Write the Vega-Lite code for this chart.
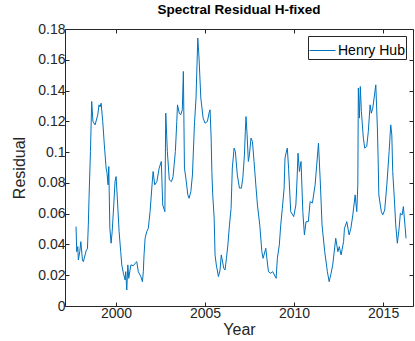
{
  "$schema": "https://vega.github.io/schema/vega-lite/v6.json",
  "autosize": "none",
  "width": 348,
  "height": 277,
  "padding": {"left": 65, "top": 29, "right": 2, "bottom": 35},
  "background": "white",
  "title": {"text": "Spectral Residual H-fixed", "fontSize": 13.5, "fontWeight": "bold", "font": "Liberation Sans", "color": "#000000", "offset": 6},
  "config": {
    "font": "Liberation Sans",
    "view": {"stroke": null},
    "axis": {"grid": false, "domainColor": "#262626", "tickColor": "#262626", "labelColor": "#262626", "titleColor": "#262626", "labelFontSize": 14, "titleFontSize": 16, "titleFontWeight": "normal", "tickSize": -4, "labelPadding": 4, "domainWidth": 1, "tickWidth": 1},
    "legend": {"orient": "top-right", "offset": 7, "strokeColor": "#262626", "fillColor": "white", "padding": 1, "symbolType": "stroke", "symbolSize": 676, "symbolStrokeWidth": 1, "labelFontSize": 14, "labelOffset": 2, "labelColor": "#000000", "title": null}
  },
  "data": {"values": [
    {"year": 1997.75, "r": 0.0516}, {"year": 1997.79, "r": 0.0353}, {"year": 1997.85, "r": 0.0386}, {"year": 1997.88, "r": 0.0299},
    {"year": 1997.96, "r": 0.0353}, {"year": 1998.02, "r": 0.0418}, {"year": 1998.11, "r": 0.0299}, {"year": 1998.16, "r": 0.0288},
    {"year": 1998.26, "r": 0.0332}, {"year": 1998.33, "r": 0.0364}, {"year": 1998.39, "r": 0.0371}, {"year": 1998.44, "r": 0.0527},
    {"year": 1998.48, "r": 0.07}, {"year": 1998.56, "r": 0.1004}, {"year": 1998.63, "r": 0.1329}, {"year": 1998.7, "r": 0.1199},
    {"year": 1998.82, "r": 0.1177}, {"year": 1998.97, "r": 0.1242}, {"year": 1999.04, "r": 0.1307}, {"year": 1999.1, "r": 0.1294},
    {"year": 1999.16, "r": 0.1318}, {"year": 1999.25, "r": 0.1199}, {"year": 1999.34, "r": 0.1047}, {"year": 1999.44, "r": 0.0896},
    {"year": 1999.49, "r": 0.0865}, {"year": 1999.55, "r": 0.0787}, {"year": 1999.59, "r": 0.0906}, {"year": 1999.65, "r": 0.0505},
    {"year": 1999.72, "r": 0.0408}, {"year": 1999.78, "r": 0.0483}, {"year": 1999.87, "r": 0.0657}, {"year": 1999.94, "r": 0.0808},
    {"year": 2000.0, "r": 0.0841}, {"year": 2000.07, "r": 0.07}, {"year": 2000.17, "r": 0.0483}, {"year": 2000.26, "r": 0.0353},
    {"year": 2000.32, "r": 0.0267}, {"year": 2000.41, "r": 0.0213}, {"year": 2000.51, "r": 0.0169}, {"year": 2000.54, "r": 0.0223},
    {"year": 2000.6, "r": 0.0104}, {"year": 2000.66, "r": 0.0267}, {"year": 2000.71, "r": 0.018}, {"year": 2000.83, "r": 0.0267},
    {"year": 2000.97, "r": 0.0262}, {"year": 2001.07, "r": 0.0278}, {"year": 2001.16, "r": 0.0288}, {"year": 2001.25, "r": 0.0223},
    {"year": 2001.39, "r": 0.0191}, {"year": 2001.48, "r": 0.0158}, {"year": 2001.53, "r": 0.0223}, {"year": 2001.57, "r": 0.0332},
    {"year": 2001.63, "r": 0.044}, {"year": 2001.72, "r": 0.0483}, {"year": 2001.81, "r": 0.0505}, {"year": 2001.91, "r": 0.0613},
    {"year": 2002.02, "r": 0.0787}, {"year": 2002.08, "r": 0.0874}, {"year": 2002.17, "r": 0.0787}, {"year": 2002.29, "r": 0.0808},
    {"year": 2002.42, "r": 0.0896}, {"year": 2002.54, "r": 0.0939}, {"year": 2002.62, "r": 0.0657}, {"year": 2002.74, "r": 0.0613},
    {"year": 2002.79, "r": 0.1253}, {"year": 2002.88, "r": 0.1004}, {"year": 2002.99, "r": 0.082}, {"year": 2003.11, "r": 0.0808},
    {"year": 2003.2, "r": 0.0841}, {"year": 2003.33, "r": 0.1004}, {"year": 2003.41, "r": 0.1199}, {"year": 2003.45, "r": 0.1307},
    {"year": 2003.55, "r": 0.1253}, {"year": 2003.63, "r": 0.1242}, {"year": 2003.72, "r": 0.1275}, {"year": 2003.78, "r": 0.1524},
    {"year": 2003.84, "r": 0.0896}, {"year": 2003.92, "r": 0.0831}, {"year": 2004.03, "r": 0.0722}, {"year": 2004.1, "r": 0.07},
    {"year": 2004.2, "r": 0.0743}, {"year": 2004.29, "r": 0.0852}, {"year": 2004.4, "r": 0.1177}, {"year": 2004.49, "r": 0.1351},
    {"year": 2004.59, "r": 0.1741}, {"year": 2004.66, "r": 0.1611}, {"year": 2004.76, "r": 0.1351}, {"year": 2004.89, "r": 0.1221},
    {"year": 2005.0, "r": 0.1188}, {"year": 2005.13, "r": 0.1199}, {"year": 2005.22, "r": 0.1253}, {"year": 2005.28, "r": 0.1275},
    {"year": 2005.34, "r": 0.1091}, {"year": 2005.38, "r": 0.0874}, {"year": 2005.43, "r": 0.0722}, {"year": 2005.51, "r": 0.057},
    {"year": 2005.56, "r": 0.0332}, {"year": 2005.63, "r": 0.0267}, {"year": 2005.75, "r": 0.0191}, {"year": 2005.84, "r": 0.0234},
    {"year": 2005.91, "r": 0.0332}, {"year": 2006.05, "r": 0.0245}, {"year": 2006.12, "r": 0.0234}, {"year": 2006.2, "r": 0.031},
    {"year": 2006.28, "r": 0.0397}, {"year": 2006.37, "r": 0.0527}, {"year": 2006.46, "r": 0.0635}, {"year": 2006.53, "r": 0.0896},
    {"year": 2006.63, "r": 0.1026}, {"year": 2006.7, "r": 0.1004}, {"year": 2006.81, "r": 0.0852}, {"year": 2006.93, "r": 0.0766},
    {"year": 2007.04, "r": 0.0766}, {"year": 2007.12, "r": 0.0831}, {"year": 2007.21, "r": 0.0982}, {"year": 2007.26, "r": 0.1134},
    {"year": 2007.3, "r": 0.1231}, {"year": 2007.36, "r": 0.1112}, {"year": 2007.43, "r": 0.0939}, {"year": 2007.49, "r": 0.0982},
    {"year": 2007.58, "r": 0.1091}, {"year": 2007.66, "r": 0.1069}, {"year": 2007.75, "r": 0.0939}, {"year": 2007.85, "r": 0.0787},
    {"year": 2007.94, "r": 0.0657}, {"year": 2008.07, "r": 0.0527}, {"year": 2008.19, "r": 0.0353}, {"year": 2008.26, "r": 0.031},
    {"year": 2008.41, "r": 0.0375}, {"year": 2008.47, "r": 0.031}, {"year": 2008.56, "r": 0.0223}, {"year": 2008.69, "r": 0.0213},
    {"year": 2008.8, "r": 0.0223}, {"year": 2008.99, "r": 0.018}, {"year": 2009.06, "r": 0.031}, {"year": 2009.17, "r": 0.0397},
    {"year": 2009.25, "r": 0.0527}, {"year": 2009.34, "r": 0.0635}, {"year": 2009.44, "r": 0.0766}, {"year": 2009.49, "r": 0.0961},
    {"year": 2009.59, "r": 0.1015}, {"year": 2009.62, "r": 0.1026}, {"year": 2009.69, "r": 0.0896}, {"year": 2009.81, "r": 0.0613},
    {"year": 2009.98, "r": 0.0581}, {"year": 2010.1, "r": 0.0657}, {"year": 2010.17, "r": 0.0831}, {"year": 2010.22, "r": 0.0993},
    {"year": 2010.3, "r": 0.0874}, {"year": 2010.39, "r": 0.0939}, {"year": 2010.49, "r": 0.0613}, {"year": 2010.58, "r": 0.0462},
    {"year": 2010.67, "r": 0.0548}, {"year": 2010.8, "r": 0.0548}, {"year": 2010.9, "r": 0.0678}, {"year": 2011.03, "r": 0.067},
    {"year": 2011.18, "r": 0.0787}, {"year": 2011.37, "r": 0.1058}, {"year": 2011.48, "r": 0.0787}, {"year": 2011.57, "r": 0.0527},
    {"year": 2011.72, "r": 0.0353}, {"year": 2011.87, "r": 0.0223}, {"year": 2011.97, "r": 0.0158}, {"year": 2012.06, "r": 0.0202},
    {"year": 2012.17, "r": 0.0267}, {"year": 2012.34, "r": 0.044}, {"year": 2012.46, "r": 0.0353}, {"year": 2012.54, "r": 0.0386},
    {"year": 2012.64, "r": 0.0332}, {"year": 2012.78, "r": 0.0418}, {"year": 2012.83, "r": 0.0505}, {"year": 2012.96, "r": 0.0548},
    {"year": 2013.09, "r": 0.0462}, {"year": 2013.19, "r": 0.0505}, {"year": 2013.3, "r": 0.0592}, {"year": 2013.43, "r": 0.0722},
    {"year": 2013.52, "r": 0.0613}, {"year": 2013.58, "r": 0.0787}, {"year": 2013.61, "r": 0.1416}, {"year": 2013.67, "r": 0.1221},
    {"year": 2013.72, "r": 0.1426}, {"year": 2013.78, "r": 0.1264}, {"year": 2013.89, "r": 0.1091}, {"year": 2013.97, "r": 0.1026},
    {"year": 2014.08, "r": 0.1036}, {"year": 2014.17, "r": 0.1134}, {"year": 2014.27, "r": 0.1307}, {"year": 2014.34, "r": 0.1253},
    {"year": 2014.42, "r": 0.1286}, {"year": 2014.59, "r": 0.1437}, {"year": 2014.68, "r": 0.1156}, {"year": 2014.72, "r": 0.0961},
    {"year": 2014.76, "r": 0.0722}, {"year": 2014.9, "r": 0.0613}, {"year": 2014.98, "r": 0.0592}, {"year": 2015.09, "r": 0.0624},
    {"year": 2015.21, "r": 0.0787}, {"year": 2015.34, "r": 0.1004}, {"year": 2015.43, "r": 0.1177}, {"year": 2015.49, "r": 0.1112},
    {"year": 2015.54, "r": 0.0874}, {"year": 2015.63, "r": 0.07}, {"year": 2015.71, "r": 0.0527}, {"year": 2015.8, "r": 0.0408},
    {"year": 2015.9, "r": 0.0505}, {"year": 2015.97, "r": 0.0603}, {"year": 2016.07, "r": 0.0592}, {"year": 2016.14, "r": 0.0646},
    {"year": 2016.29, "r": 0.044}
  ]},
  "layer": [
    {
      "mark": {"type": "line", "strokeWidth": 1, "clip": true},
      "encoding": {
        "x": {"field": "year", "type": "quantitative", "scale": {"domain": [1997.13, 2016.68], "nice": false, "zero": false},
              "axis": {"orient": "bottom", "values": [2000, 2005, 2010, 2015], "format": "d", "title": "Year", "titlePadding": 1}},
        "y": {"field": "r", "type": "quantitative", "scale": {"domain": [0, 0.18], "nice": false},
              "axis": {"orient": "left", "values": [0, 0.02, 0.04, 0.06, 0.08, 0.1, 0.12, 0.14, 0.16, 0.18], "format": "~g", "title": "Residual", "titlePadding": 10}},
        "color": {"datum": "Henry Hub", "type": "nominal", "scale": {"range": ["#0072BD"]}}
      }
    },
    {
      "mark": {"type": "line", "opacity": 0},
      "encoding": {
        "x": {"field": "year", "type": "quantitative",
              "axis": {"orient": "top", "values": [2000, 2005, 2010, 2015], "labels": false, "title": null}},
        "y": {"field": "r", "type": "quantitative",
              "axis": {"orient": "right", "values": [0, 0.02, 0.04, 0.06, 0.08, 0.1, 0.12, 0.14, 0.16, 0.18], "labels": false, "title": null}}
      }
    }
  ],
  "resolve": {"axis": {"x": "independent", "y": "independent"}}
}
